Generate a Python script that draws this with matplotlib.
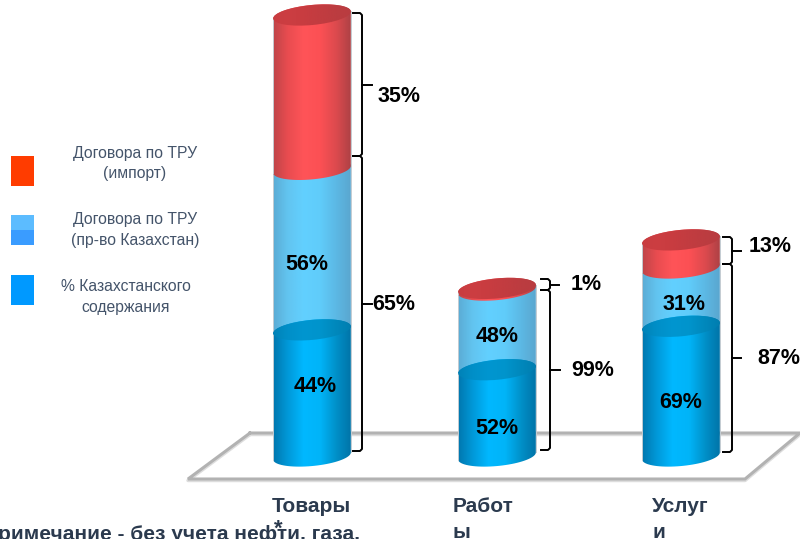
import numpy as np
import matplotlib
matplotlib.use('Agg')
import matplotlib.pyplot as plt
from matplotlib.colors import LinearSegmentedColormap
from matplotlib.patches import Polygon, Rectangle, Ellipse

plt.rcParams['font.family'] = ['Liberation Sans', 'DejaVu Sans']

categories = ['Товары', 'Работ\nы', 'Услуг\nи']
bar_totals = [100, 38, 49]          # relative height of each cylinder
import_share = [35, 1, 13]
local_share = [65, 99, 87]
kz_content = [44, 52, 69]
other_content = [56, 48, 31]
legend_labels = ['Договора по ТРУ\n(импорт)', 'Договора по ТРУ\n(пр-во Казахстан)', '% Казахстанского\nсодержания']

dark = '#2b3a4e'
leg_col = '#44546a'

fig = plt.figure(figsize=(8.0, 5.39), dpi=100)
ax = fig.add_axes([0, 0, 1, 1])
ax.set_xlim(0, 800)
ax.set_ylim(539, 0)
ax.axis('off')

# floor
floor_x = [250, 800, 745, 188, 250]
floor_y = [433, 433, 479, 479, 433]
ax.plot(np.array(floor_x), np.array(floor_y) + 1.5, color='#dddddd', lw=2.5, zorder=1)
ax.plot(floor_x, floor_y, color='#b2b2b2', lw=2.2, zorder=1.1, solid_joinstyle='miter')

centers = [312, 497, 681]
half_w = 39
semi_b = 10
tilt = np.radians(-5.5)
bottom_y = 456
scale = 4.41


def ell(cx, cy, t):
    x = cx + half_w*np.cos(t)*np.cos(tilt) - semi_b*np.sin(t)*np.sin(tilt)
    y = cy + half_w*np.cos(t)*np.sin(tilt) + semi_b*np.sin(t)*np.cos(tilt)
    return x, y


def grad_fill(patch, cx, y0, y1, cols, z):
    cm = LinearSegmentedColormap.from_list('c', cols)
    grad = np.linspace(0, 1, 200).reshape(1, -1)
    im = ax.imshow(grad, cmap=cm, extent=[cx-half_w-2, cx+half_w+2, y1, y0],
                   aspect='auto', zorder=z)
    ax.add_patch(patch)
    im.set_clip_path(patch)


def body(cx, y_top, y_bot, cols, z):
    t1 = np.linspace(np.pi, 2*np.pi, 40)
    t2 = np.linspace(0, np.pi, 40)
    xa, ya = ell(cx, y_top, t1)
    xb, yb = ell(cx, y_bot, t2)
    pts = np.column_stack([np.r_[xa, xb], np.r_[ya, yb]])
    patch = Polygon(pts, closed=True, transform=ax.transData, fc='none', ec='none')
    grad_fill(patch, cx, y_top-20, y_bot+20, cols, z)
    ax.plot(pts[39:41, 0], pts[39:41, 1], color='#c4ccd2', lw=0.7, zorder=z+0.1)
    ax.plot([pts[-1, 0], pts[0, 0]], [pts[-1, 1], pts[0, 1]], color='#c4ccd2', lw=0.7, zorder=z+0.1)


def cap(cx, cy, cols, z):
    patch = Ellipse((cx, cy), 2*half_w, 2*semi_b, angle=np.degrees(tilt), fc='none', ec='none',
                    transform=ax.transData)
    grad_fill(patch, cx, cy-20, cy+20, cols, z)


blue = ['#0072a8', '#0098d8', '#00b8ff', '#00b4f8', '#0090c8', '#0070a4']
light = ['#5aa8d0', '#62c4f0', '#62d0ff', '#60ccfa', '#5cb8e4', '#5aa4cc']
red = ['#b84448', '#e84c50', '#ff5458', '#fc5054', '#dc4a4e', '#a84044']
blue_cap = ['#0080b4', '#008fc8', '#0096d0', '#0094cc', '#0088bc', '#007cae']
red_cap = ['#c83c40', '#cc3e42', '#c83c40', '#c23c40', '#bc3c40', '#b83c40']

for i, cx in enumerate(centers):
    total_h = bar_totals[i]*scale
    local_h = total_h*local_share[i]/100
    kz_h = local_h*kz_content[i]/100
    y_kz = bottom_y - kz_h
    y_local = bottom_y - local_h
    y_top = bottom_y - total_h
    body(cx, y_local, y_kz, light, 3)
    body(cx, y_top, y_local, red, 4)
    body(cx, y_kz, bottom_y, blue, 5)
    cap(cx, y_kz, blue_cap, 6)
    cap(cx, y_top, red_cap, 6)

# brackets: x, top, bottom, tick end
brackets = [(362, 13, 156, 372), (362, 156, 451, 372),
            (550, 279, 290, 559), (550, 290, 450, 560),
            (732, 237, 264, 741), (732, 264, 452, 741)]
for bx, y0, y1, tx in brackets:
    ax.plot([bx-9, bx-2, bx, bx, bx-2, bx-9], [y0, y0, y0+2, y1-2, y1, y1], color='black', lw=1.4, zorder=7)
    ax.plot([bx, tx], [(y0+y1)/2, (y0+y1)/2], color='black', lw=1.4, zorder=7)

# labels in the cylinders
inner_pos = [(315, 386), (497, 429), (681, 403)]
for i, (x, y) in enumerate(inner_pos):
    ax.text(x, y, '%d%%' % kz_content[i], fontsize=15.5, fontweight='bold', ha='center', va='center', zorder=8)
inner_pos2 = [(307, 264), (497, 337), (684, 304)]
for i, (x, y) in enumerate(inner_pos2):
    ax.text(x, y, '%d%%' % other_content[i], fontsize=15.5, fontweight='bold', ha='center', va='center', zorder=8)

# labels beside the brackets
imp_pos = [(399, 96), (586, 284), (770, 246)]
loc_pos = [(394, 304), (593, 370), (779, 359)]
for i in range(3):
    ax.text(imp_pos[i][0], imp_pos[i][1], '%d%%' % import_share[i], fontsize=15.5, fontweight='bold', ha='center', va='center')
    ax.text(loc_pos[i][0], loc_pos[i][1], '%d%%' % local_share[i], fontsize=15.5, fontweight='bold', ha='center', va='center')

# category labels
cat_x = [272, 453, 652]
for x, c in zip(cat_x, categories):
    ax.text(x, 497, c.split('\n')[0], fontsize=15, fontweight='bold', color=dark, ha='left', va='top')
    if '\n' in c:
        ax.text(x, 523, c.split('\n')[1], fontsize=15, fontweight='bold', color=dark, ha='left', va='top')

ax.text(360, 534, 'Примечание - без учета нефти, газа,', fontsize=15, fontweight='bold', color=dark, ha='right', va='center')
ax.text(278, 529, '*', fontsize=16, fontweight='bold', color=dark, ha='center', va='center')

# legend
ax.add_patch(Rectangle((11, 156), 23, 30, fc='#ff3c00', ec='none'))
ax.add_patch(Rectangle((11, 215), 23, 15, fc='#5cbcff', ec='none'))
ax.add_patch(Rectangle((11, 230), 23, 15, fc='#3a9cff', ec='none'))
ax.add_patch(Rectangle((11, 275), 23, 30, fc='#0099ff', ec='none'))
leg_pos = [(135, 163.5), (135, 230), (126, 297)]
for (x, y), s in zip(leg_pos, legend_labels):
    ax.text(x, y, s, fontsize=11.3, color=leg_col, ha='center', va='center', linespacing=1.45)

ax.set_xlim(0, 800)
ax.set_ylim(539, 0)
fig.savefig('out.png', dpi=100)
plt.close('all')
